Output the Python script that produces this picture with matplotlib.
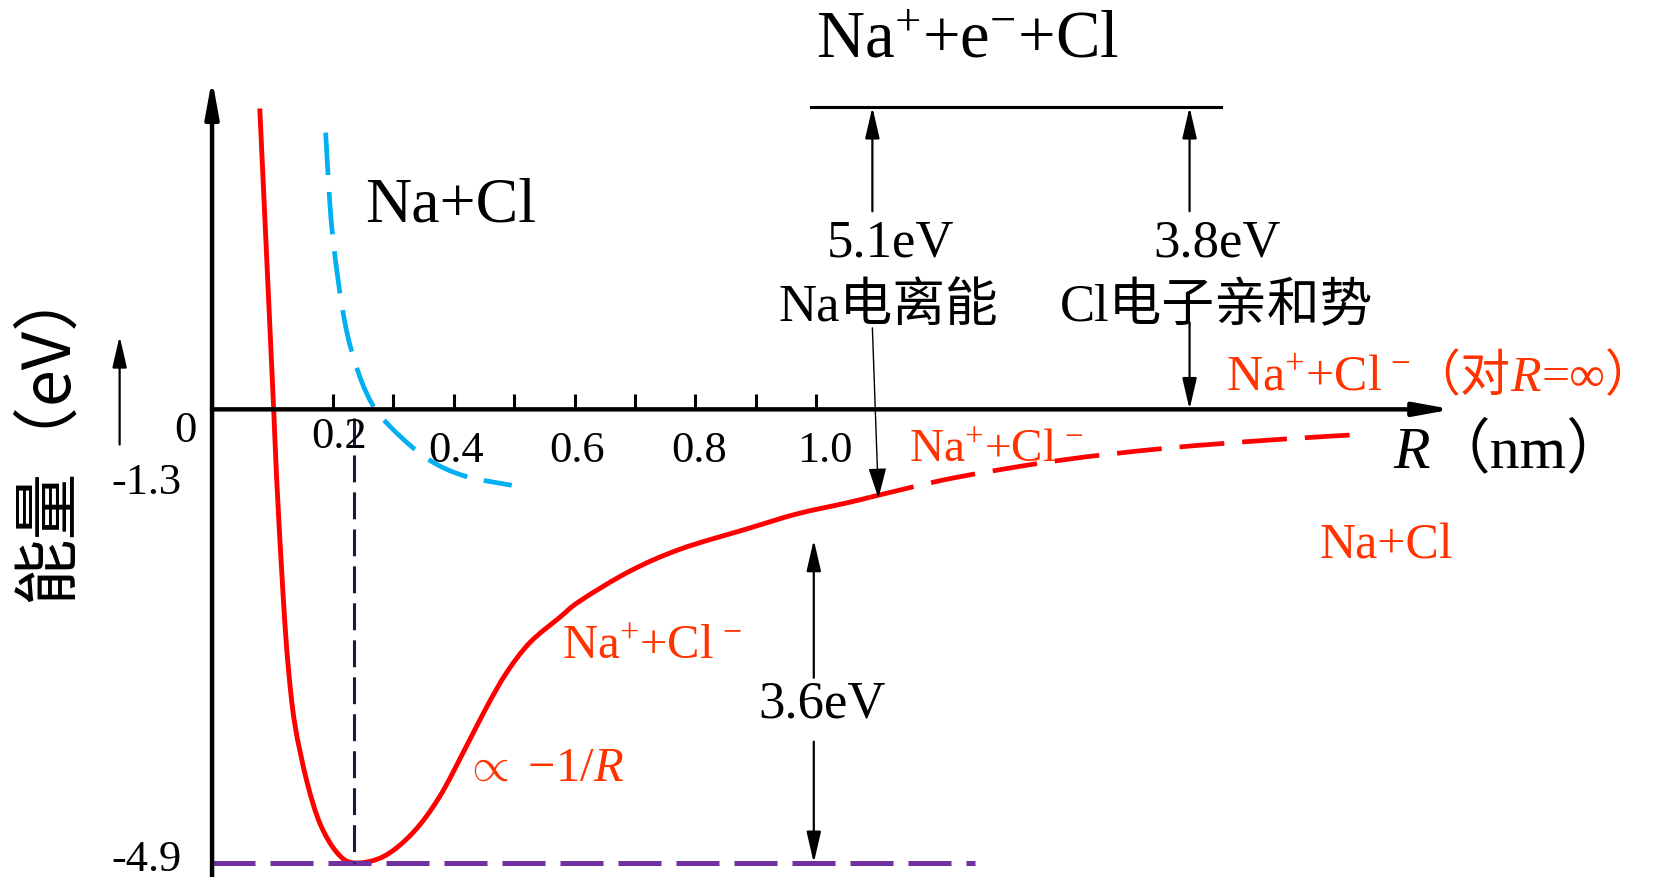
import matplotlib
matplotlib.use('Agg')
import matplotlib.pyplot as plt
from matplotlib.path import Path
from matplotlib.patches import PathPatch

plt.rcParams['font.family'] = ['Liberation Serif', 'Noto Sans CJK SC', 'DejaVu Serif']
plt.rcParams['mathtext.fontset'] = 'custom'
plt.rcParams['mathtext.rm'] = 'Liberation Serif'
plt.rcParams['mathtext.it'] = 'Liberation Serif:italic'

# Na+ + Cl- curve, R in nm, E in eV
ion_r = [0.079, 0.102, 0.107, 0.118, 0.126, 0.137, 0.157, 0.179, 0.207, 0.235,
         0.284, 0.333, 0.377, 0.421, 0.455, 0.488, 0.526, 0.575, 0.609, 0.691,
         0.775, 0.886, 0.968, 1.051, 1.089]
ion_e = [3.25, 0.0, -0.76, -2.05, -2.77, -3.40, -4.02, -4.48, -4.79, -4.90,
         -4.83, -4.57, -4.18, -3.64, -3.21, -2.84, -2.52, -2.25, -2.07, -1.75,
         -1.51, -1.29, -1.13, -1.01, -0.95]
# dashed continuation towards R -> infinity
tail_r = [1.089, 1.228, 1.404, 1.579, 1.754, 1.904]
tail_e = [-0.95, -0.74, -0.55, -0.42, -0.33, -0.27]
# Na + Cl (neutral atoms) curve
atom_r = [0.188, 0.198, 0.216, 0.235, 0.263, 0.300, 0.358, 0.418, 0.496]
atom_e = [2.99, 1.98, 1.08, 0.54, 0.08, -0.22, -0.54, -0.72, -0.82]

r_ticks = [0.2, 0.3, 0.4, 0.5, 0.6, 0.7, 0.8, 0.9, 1.0]
r_labels = ['0.2', '0.4', '0.6', '0.8', '1.0']
r_label_pos = [0.21, 0.404, 0.605, 0.807, 1.014]
e_labels = ['0', '-1.3', '-4.9']
e_label_pos = [-0.22, -0.79, -4.86]

r_min = 0.235
e_min = -4.9
e_top = 3.265
r_axis_end = 2.053
ion_energy = 5.1
affinity = 3.8
bond = 3.6

RED_TXT = '#ff3300'

fig = plt.figure(figsize=(16.62, 8.78), dpi=100)
ax = fig.add_axes([0, 0, 1, 1])
ax.set_xlim(-0.351, 2.4)
ax.set_ylim(-5.052, 4.433)
ax.axis('off')


def smooth(xs, ys, **kw):
    # curve through the read points (catmull-rom as bezier segments)
    pts = list(zip(xs, ys))
    verts = [pts[0]]
    codes = [Path.MOVETO]
    for i in range(len(pts) - 1):
        p0 = pts[max(i - 1, 0)]
        p1 = pts[i]
        p2 = pts[i + 1]
        p3 = pts[min(i + 2, len(pts) - 1)]
        c1 = (p1[0] + (p2[0] - p0[0]) / 6, p1[1] + (p2[1] - p0[1]) / 6)
        c2 = (p2[0] - (p3[0] - p1[0]) / 6, p2[1] - (p3[1] - p1[1]) / 6)
        verts += [c1, c2, p2]
        codes += [Path.CURVE4] * 3
    ax.add_patch(PathPatch(Path(verts, codes), fill=False, capstyle='butt',
                           joinstyle='round', **kw))


def arrow(x0, y0, x1, y1, lw=1.6, hl=0.95, hw=0.22):
    ax.annotate('', xy=(x1, y1), xytext=(x0, y0),
                arrowprops=dict(arrowstyle='-|>,head_length=%s,head_width=%s' % (hl, hw),
                                lw=lw, color='black', shrinkA=0, shrinkB=0,
                                mutation_scale=20))


def chain(pieces, x, y, size, color):
    # draw text pieces one after another (for mixed italic / CJK)
    r = fig.canvas.get_renderer()
    for s, style in pieces:
        t = ax.text(x, y, s, fontsize=size, color=color, style=style,
                    ha='left', va='baseline')
        bb = t.get_window_extent(r)
        x = ax.transData.inverted().transform((bb.x1, bb.y0))[0]


# axes with arrows
arrow(0, -5.06, 0, 3.57, lw=3.2, hl=1.1, hw=0.2)
arrow(0, 0, r_axis_end, 0, lw=3.2, hl=1.1, hw=0.2)
for t in r_ticks:
    ax.plot([t, t], [0, 0.17], color='black', lw=2.2, solid_capstyle='butt')
for s, p in zip(r_labels, r_label_pos):
    yy = -0.29 if s == '0.2' else -0.435
    ax.text(p, yy, s, fontsize=32, ha='center', va='center')
ax.text(-0.044, e_label_pos[0], e_labels[0], fontsize=32, ha='center', va='center')
for s, p in zip(e_labels[1:], e_label_pos[1:]):
    ax.text(-0.108, p, s, fontsize=32, ha='center', va='center')

# curves
smooth(ion_r, ion_e, edgecolor='#ff0000', lw=3.5)
smooth(tail_r, tail_e, edgecolor='#ff0000', lw=3.4, linestyle=(0, (9.5, 3.8)))
smooth(atom_r, atom_e, edgecolor='#00b0f0', lw=3.4, linestyle=(0, (9, 3.6)))
ax.plot([0, 1.263], [e_min, e_min], color='#7030a0', lw=3.6, dashes=(8.6, 3.0))
ax.plot([r_min, r_min], [-0.09, e_min], color='#1a1a40', lw=2.2, dashes=(8.8, 3.3))

# ionised level
ax.plot([0.991, 1.670], [e_top, e_top], color='black', lw=2.2)
arrow(1.093, 2.14, 1.093, e_top)
arrow(1.093, 0.88, 1.103, -0.96, lw=1.0, hw=0.28)
arrow(1.618, 2.14, 1.618, e_top)
arrow(1.618, 0.94, 1.618, 0)
arrow(0.996, -2.90, 0.996, -1.41)
arrow(0.996, -3.59, 0.996, e_min)

# texts
ax.text(1.0, 4.0, 'Na$^{+}$+e$^{-}$+Cl', fontsize=48, ha='left', va='center')
ax.text(0.254, 2.2, 'Na+Cl', fontsize=46, ha='left', va='center')
ax.text(1.123, 1.80, '%.1feV' % ion_energy, fontsize=38, ha='center', va='center')
ax.text(1.119, 1.11, 'Na电离能', fontsize=38, ha='center', va='center')
ax.text(1.663, 1.80, '%.1feV' % affinity, fontsize=38, ha='center', va='center')
ax.text(1.663, 1.11, 'Cl电子亲和势', fontsize=38, ha='center', va='center')
ax.text(1.009, -3.18, '%.1feV' % bond, fontsize=38, ha='center', va='center')

chain([('Na$^{+}$+Cl$^{\\,-}$', 'normal'), ('（对', 'normal'), ('R', 'italic'),
       ('=∞）', 'normal')], 1.678, 0.21, 36, RED_TXT)
chain([('R', 'italic'), ('（nm）', 'normal')], 1.956, -0.62, 43, 'black')
ax.text(1.154, -0.435, 'Na$^{+}$+Cl$^{\\,-}$', fontsize=34, ha='left', va='center',
        color=RED_TXT)
ax.text(1.833, -1.47, 'Na+Cl', fontsize=36, ha='left', va='center', color=RED_TXT)
ax.text(0.579, -2.55, 'Na$^{+}$+Cl$^{\\,-}$', fontsize=35, ha='left', va='center',
        color=RED_TXT)
ax.text(0.417, -3.87, '$\\propto$ −1/$R$', fontsize=35, ha='left', va='center',
        color=RED_TXT)

# y label with small arrow
ax.text(-0.272, -0.22, '能量（eV）', fontsize=48, rotation=90, ha='center', va='center',
        family=['Noto Sans CJK SC', 'DejaVu Sans'])
arrow(-0.153, -0.38, -0.153, 0.79, lw=1.6)

fig.savefig('out.png', dpi=100)
